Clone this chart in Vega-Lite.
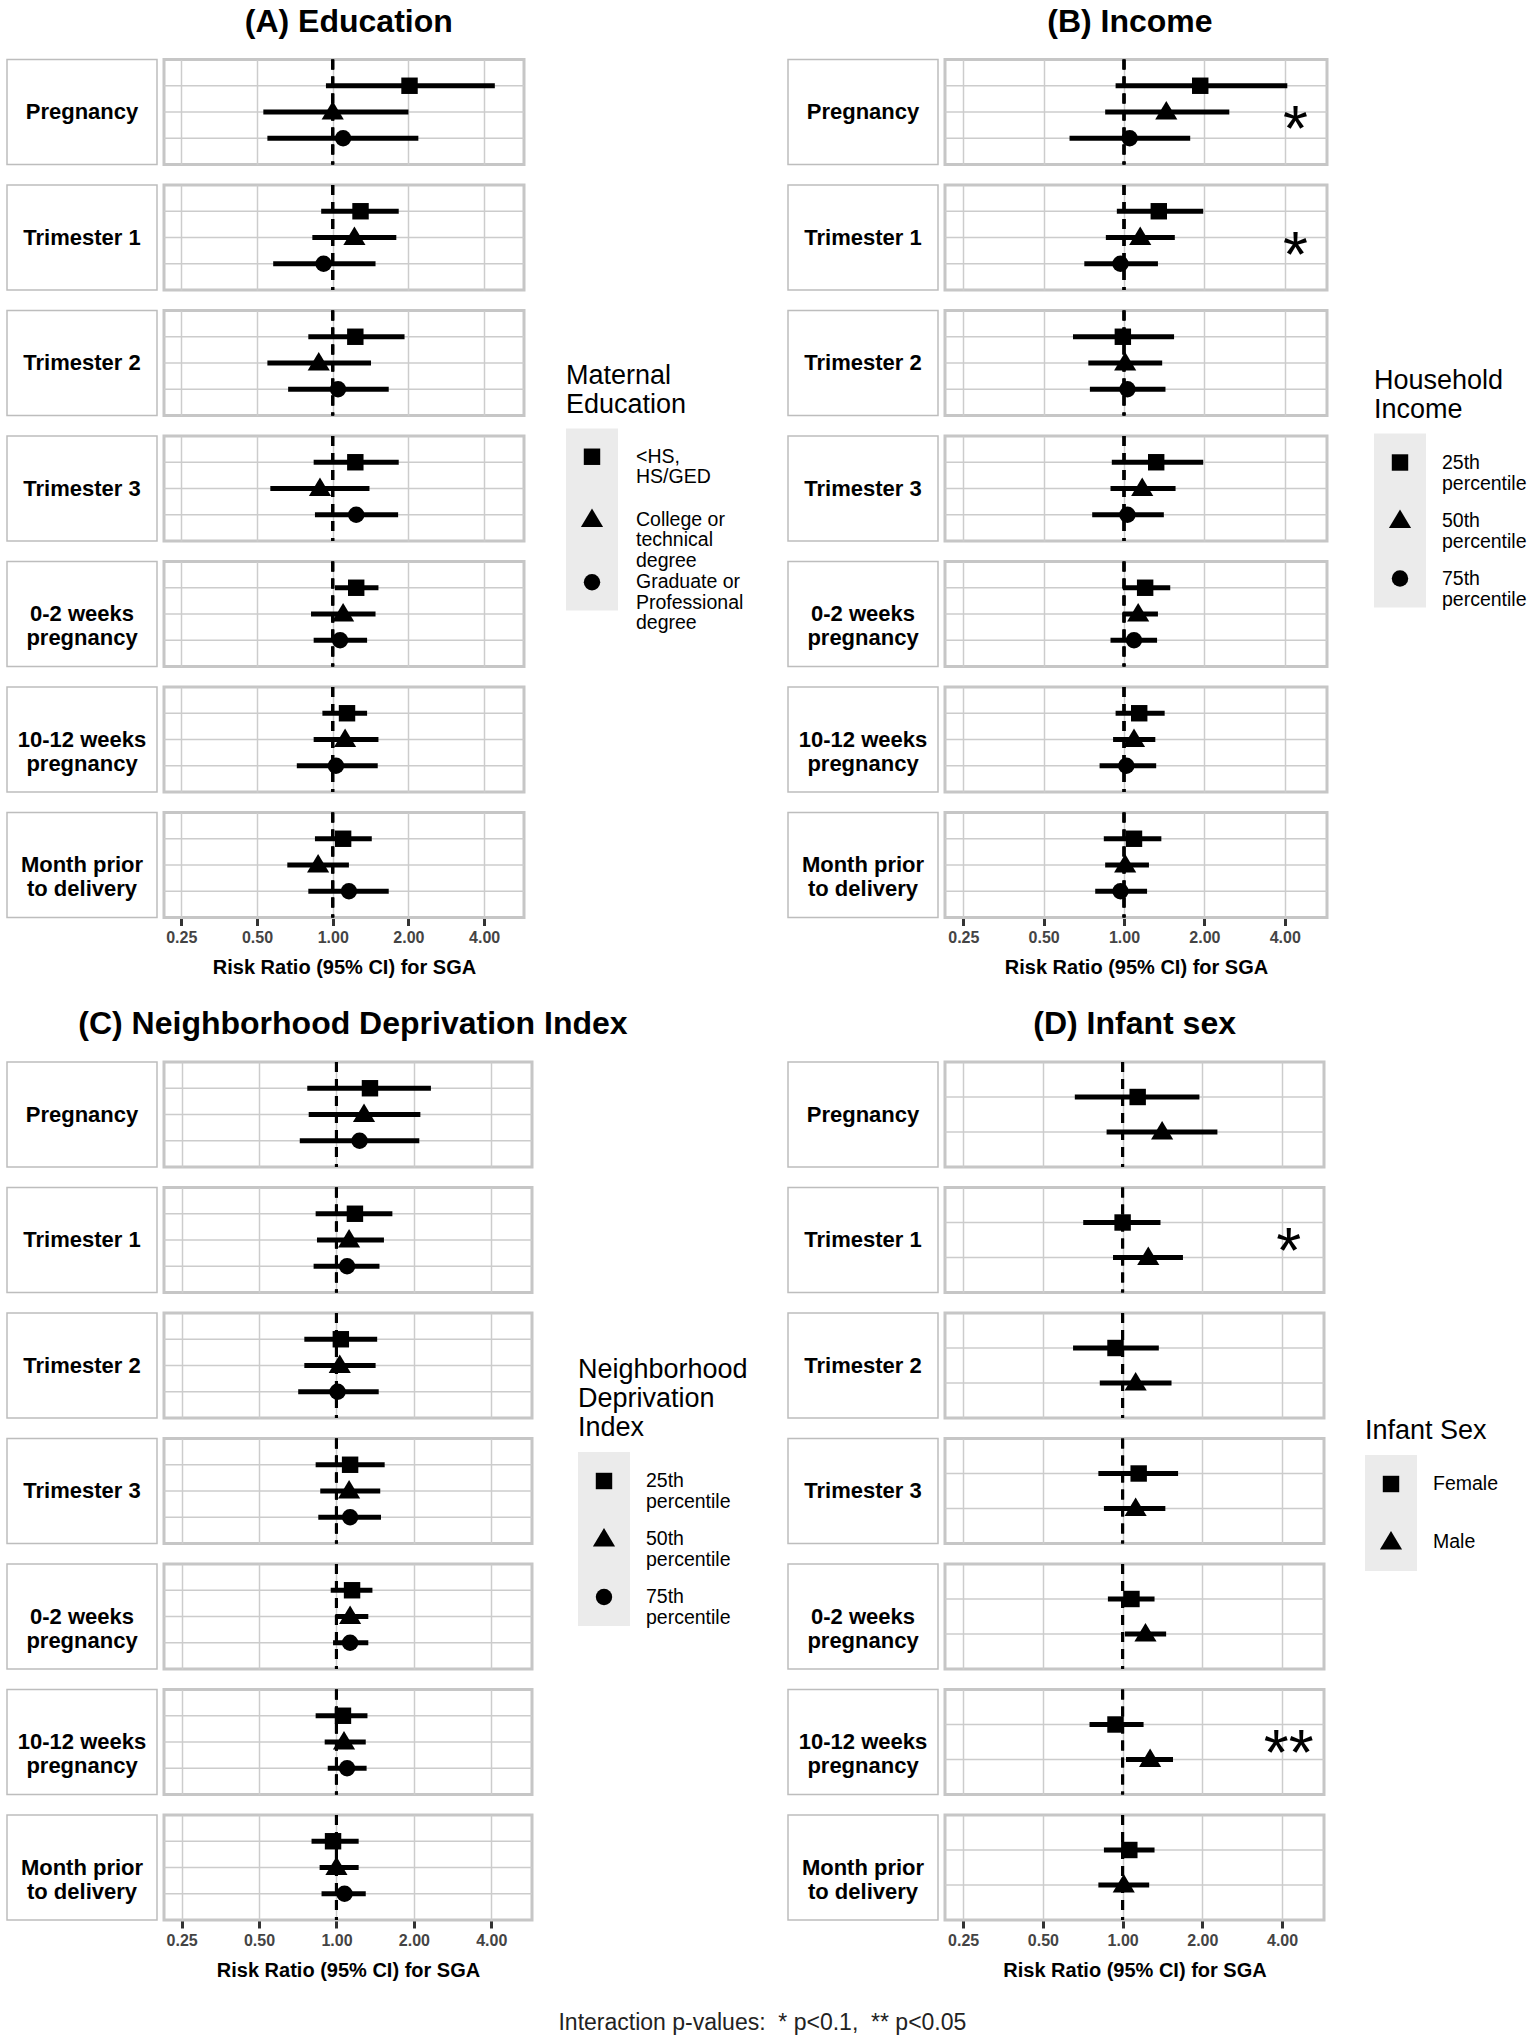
{
 "$schema": "https://vega.github.io/schema/vega-lite/v6.json",
 "padding": {"left": 6, "top": 5.5, "right": 0, "bottom": 2},
 "background": "white",
 "config": {
  "font": "Liberation Sans",
  "view": {"stroke": null},
  "axisX": {"labelFontSize": 16, "labelFontWeight": "bold", "labelColor": "#444444", "labelFlush": false, "tickColor": "#333333", "tickWidth": 3, "tickSize": 8, "domain": false, "grid": true, "gridColor": "#cccccc", "gridWidth": 1.5, "titleFontSize": 20, "titleFontWeight": "bold", "titleColor": "black", "labelPadding": 4, "titlePadding": 12},
  "title": {"color": "black"}
 },
 "title": {"text": "Interaction p-values:\u00a0 * p<0.1,\u00a0 ** p<0.05", "orient": "bottom", "anchor": "middle", "dx": -4, "fontSize": 23, "fontWeight": "normal", "color": "#222222", "offset": 32},
 "datasets": {
  "edu": [
   {"window":"Pregnancy","group":"<HS,\nHS/GED","rr":2.02,"lo":0.94,"hi":4.41},
   {"window":"Pregnancy","group":"College or\ntechnical\ndegree","rr":1.00,"lo":0.53,"hi":2.00},
   {"window":"Pregnancy","group":"Graduate or\nProfessional\ndegree","rr":1.10,"lo":0.55,"hi":2.19},
   {"window":"Trimester 1","group":"<HS,\nHS/GED","rr":1.29,"lo":0.90,"hi":1.83},
   {"window":"Trimester 1","group":"College or\ntechnical\ndegree","rr":1.22,"lo":0.83,"hi":1.79},
   {"window":"Trimester 1","group":"Graduate or\nProfessional\ndegree","rr":0.92,"lo":0.58,"hi":1.48},
   {"window":"Trimester 2","group":"<HS,\nHS/GED","rr":1.23,"lo":0.80,"hi":1.93},
   {"window":"Trimester 2","group":"College or\ntechnical\ndegree","rr":0.88,"lo":0.55,"hi":1.42},
   {"window":"Trimester 2","group":"Graduate or\nProfessional\ndegree","rr":1.05,"lo":0.665,"hi":1.67},
   {"window":"Trimester 3","group":"<HS,\nHS/GED","rr":1.23,"lo":0.84,"hi":1.83},
   {"window":"Trimester 3","group":"College or\ntechnical\ndegree","rr":0.89,"lo":0.565,"hi":1.40},
   {"window":"Trimester 3","group":"Graduate or\nProfessional\ndegree","rr":1.24,"lo":0.85,"hi":1.82},
   {"window":"0-2 weeks\npregnancy","group":"<HS,\nHS/GED","rr":1.24,"lo":1.02,"hi":1.52},
   {"window":"0-2 weeks\npregnancy","group":"College or\ntechnical\ndegree","rr":1.10,"lo":0.82,"hi":1.48},
   {"window":"0-2 weeks\npregnancy","group":"Graduate or\nProfessional\ndegree","rr":1.07,"lo":0.84,"hi":1.37},
   {"window":"10-12 weeks\npregnancy","group":"<HS,\nHS/GED","rr":1.14,"lo":0.91,"hi":1.37},
   {"window":"10-12 weeks\npregnancy","group":"College or\ntechnical\ndegree","rr":1.12,"lo":0.84,"hi":1.52},
   {"window":"10-12 weeks\npregnancy","group":"Graduate or\nProfessional\ndegree","rr":1.03,"lo":0.72,"hi":1.51},
   {"window":"Month prior\nto delivery","group":"<HS,\nHS/GED","rr":1.10,"lo":0.85,"hi":1.43},
   {"window":"Month prior\nto delivery","group":"College or\ntechnical\ndegree","rr":0.875,"lo":0.66,"hi":1.16},
   {"window":"Month prior\nto delivery","group":"Graduate or\nProfessional\ndegree","rr":1.16,"lo":0.80,"hi":1.67}
  ],
  "inc": [
   {"window":"Pregnancy","group":"25th\npercentile","rr":1.93,"lo":0.93,"hi":4.09},
   {"window":"Pregnancy","group":"50th\npercentile","rr":1.44,"lo":0.85,"hi":2.48,"star":"*"},
   {"window":"Pregnancy","group":"75th\npercentile","rr":1.05,"lo":0.625,"hi":1.77},
   {"window":"Trimester 1","group":"25th\npercentile","rr":1.35,"lo":0.94,"hi":1.98},
   {"window":"Trimester 1","group":"50th\npercentile","rr":1.15,"lo":0.855,"hi":1.55,"star":"*"},
   {"window":"Trimester 1","group":"75th\npercentile","rr":0.97,"lo":0.71,"hi":1.34},
   {"window":"Trimester 2","group":"25th\npercentile","rr":0.99,"lo":0.644,"hi":1.54},
   {"window":"Trimester 2","group":"50th\npercentile","rr":1.01,"lo":0.735,"hi":1.39},
   {"window":"Trimester 2","group":"75th\npercentile","rr":1.03,"lo":0.745,"hi":1.43},
   {"window":"Trimester 3","group":"25th\npercentile","rr":1.32,"lo":0.90,"hi":1.98},
   {"window":"Trimester 3","group":"50th\npercentile","rr":1.17,"lo":0.89,"hi":1.56},
   {"window":"Trimester 3","group":"75th\npercentile","rr":1.03,"lo":0.76,"hi":1.41},
   {"window":"0-2 weeks\npregnancy","group":"25th\npercentile","rr":1.20,"lo":0.99,"hi":1.49},
   {"window":"0-2 weeks\npregnancy","group":"50th\npercentile","rr":1.13,"lo":0.99,"hi":1.34},
   {"window":"0-2 weeks\npregnancy","group":"75th\npercentile","rr":1.09,"lo":0.89,"hi":1.33},
   {"window":"10-12 weeks\npregnancy","group":"25th\npercentile","rr":1.14,"lo":0.93,"hi":1.42},
   {"window":"10-12 weeks\npregnancy","group":"50th\npercentile","rr":1.09,"lo":0.91,"hi":1.31},
   {"window":"10-12 weeks\npregnancy","group":"75th\npercentile","rr":1.02,"lo":0.81,"hi":1.32},
   {"window":"Month prior\nto delivery","group":"25th\npercentile","rr":1.09,"lo":0.84,"hi":1.38},
   {"window":"Month prior\nto delivery","group":"50th\npercentile","rr":1.01,"lo":0.85,"hi":1.24},
   {"window":"Month prior\nto delivery","group":"75th\npercentile","rr":0.97,"lo":0.78,"hi":1.22}
  ],
  "ndi": [
   {"window":"Pregnancy","group":"25th\npercentile","rr":1.35,"lo":0.77,"hi":2.33},
   {"window":"Pregnancy","group":"50th\npercentile","rr":1.28,"lo":0.78,"hi":2.12},
   {"window":"Pregnancy","group":"75th\npercentile","rr":1.23,"lo":0.72,"hi":2.10},
   {"window":"Trimester 1","group":"25th\npercentile","rr":1.18,"lo":0.83,"hi":1.65},
   {"window":"Trimester 1","group":"50th\npercentile","rr":1.12,"lo":0.84,"hi":1.53},
   {"window":"Trimester 1","group":"75th\npercentile","rr":1.10,"lo":0.815,"hi":1.47},
   {"window":"Trimester 2","group":"25th\npercentile","rr":1.04,"lo":0.75,"hi":1.44},
   {"window":"Trimester 2","group":"50th\npercentile","rr":1.03,"lo":0.75,"hi":1.42},
   {"window":"Trimester 2","group":"75th\npercentile","rr":1.01,"lo":0.71,"hi":1.46},
   {"window":"Trimester 3","group":"25th\npercentile","rr":1.13,"lo":0.83,"hi":1.54},
   {"window":"Trimester 3","group":"50th\npercentile","rr":1.12,"lo":0.865,"hi":1.48},
   {"window":"Trimester 3","group":"75th\npercentile","rr":1.13,"lo":0.85,"hi":1.49},
   {"window":"0-2 weeks\npregnancy","group":"25th\npercentile","rr":1.15,"lo":0.95,"hi":1.38},
   {"window":"0-2 weeks\npregnancy","group":"50th\npercentile","rr":1.13,"lo":0.99,"hi":1.33},
   {"window":"0-2 weeks\npregnancy","group":"75th\npercentile","rr":1.13,"lo":0.97,"hi":1.33},
   {"window":"10-12 weeks\npregnancy","group":"25th\npercentile","rr":1.06,"lo":0.83,"hi":1.32},
   {"window":"10-12 weeks\npregnancy","group":"50th\npercentile","rr":1.07,"lo":0.90,"hi":1.30},
   {"window":"10-12 weeks\npregnancy","group":"75th\npercentile","rr":1.10,"lo":0.925,"hi":1.31},
   {"window":"Month prior\nto delivery","group":"25th\npercentile","rr":0.97,"lo":0.80,"hi":1.22},
   {"window":"Month prior\nto delivery","group":"50th\npercentile","rr":1.00,"lo":0.86,"hi":1.22},
   {"window":"Month prior\nto delivery","group":"75th\npercentile","rr":1.075,"lo":0.875,"hi":1.30}
  ],
  "sex": [
   {"window":"Pregnancy","group":"Female","rr":1.14,"lo":0.66,"hi":1.95},
   {"window":"Pregnancy","group":"Male","rr":1.41,"lo":0.87,"hi":2.28},
   {"window":"Trimester 1","group":"Female","rr":1.00,"lo":0.71,"hi":1.39},
   {"window":"Trimester 1","group":"Male","rr":1.25,"lo":0.92,"hi":1.69,"star":"*"},
   {"window":"Trimester 2","group":"Female","rr":0.94,"lo":0.65,"hi":1.37},
   {"window":"Trimester 2","group":"Male","rr":1.12,"lo":0.82,"hi":1.53},
   {"window":"Trimester 3","group":"Female","rr":1.15,"lo":0.81,"hi":1.62},
   {"window":"Trimester 3","group":"Male","rr":1.12,"lo":0.85,"hi":1.45},
   {"window":"0-2 weeks\npregnancy","group":"Female","rr":1.08,"lo":0.88,"hi":1.32},
   {"window":"0-2 weeks\npregnancy","group":"Male","rr":1.22,"lo":1.02,"hi":1.46},
   {"window":"10-12 weeks\npregnancy","group":"Female","rr":0.94,"lo":0.75,"hi":1.20},
   {"window":"10-12 weeks\npregnancy","group":"Male","rr":1.27,"lo":1.03,"hi":1.55,"star":"**"},
   {"window":"Month prior\nto delivery","group":"Female","rr":1.06,"lo":0.85,"hi":1.32},
   {"window":"Month prior\nto delivery","group":"Male","rr":1.01,"lo":0.81,"hi":1.26}
  ]
 },
 "vconcat": [
  {
   "hconcat": [
    {
     "title": {"text": "(A) Education", "fontSize": 32, "fontWeight": "bold", "anchor": "middle", "dx": -26, "offset": 18},
     "hconcat": [
      {
       "hconcat": [
        {
         "data": {"name": "edu"},
         "transform": [{"aggregate": [], "groupby": ["window"]}],
         "facet": {"row": {"field": "window", "type": "nominal", "header": null, "sort": ["Pregnancy","Trimester 1","Trimester 2","Trimester 3","0-2 weeks\npregnancy","10-12 weeks\npregnancy","Month prior\nto delivery"]}},
         "spacing": 20.5, "bounds": "flush",
         "spec": {
          "width": 150, "height": 105,
          "view": {"stroke": "#bdbdbd", "strokeWidth": 1.5},
          "layer": [{"mark": {"type": "text", "fontSize": 22, "fontWeight": "bold", "lineBreak": "\n", "lineHeight": 24, "baseline": "middle", "color": "black"}, "encoding": {"text": {"field": "window"}}}]
         }
        },
        {
         "data": {"name": "edu"},
         "facet": {"row": {"field": "window", "type": "nominal", "header": null, "sort": ["Pregnancy","Trimester 1","Trimester 2","Trimester 3","0-2 weeks\npregnancy","10-12 weeks\npregnancy","Month prior\nto delivery"]}},
         "spacing": 20.5, "bounds": "flush",
         "spec": {
          "width": 360, "height": 105,
          "view": {"stroke": "#c6c6c6", "strokeWidth": 3},
          "layer": [
           {"mark": {"type": "rule", "color": "#cccccc", "strokeWidth": 1.5},
            "encoding": {"y": {"field": "group", "type": "nominal", "sort": ["<HS,\nHS/GED","College or\ntechnical\ndegree","Graduate or\nProfessional\ndegree"], "scale": {"type": "point", "padding": 1.2}, "axis": null}}},
           {"mark": {"type": "rule", "color": "black", "strokeWidth": 3, "strokeDash": [10, 7]},
            "encoding": {"x": {"datum": 1, "type": "quantitative", "scale": {"type": "log", "domain": [0.2135, 5.76], "nice": false}, "axis": {"values": [0.25, 0.5, 1, 2, 4], "format": ".2f", "title": "Risk Ratio (95% CI) for SGA"}}}},
           {"mark": {"type": "rule", "color": "black", "strokeWidth": 5},
            "encoding": {"x": {"field": "lo", "type": "quantitative", "scale": {"type": "log", "domain": [0.2135, 5.76], "nice": false}, "axis": {"values": [0.25, 0.5, 1, 2, 4], "format": ".2f", "title": "Risk Ratio (95% CI) for SGA"}}, "x2": {"field": "hi"},
             "y": {"field": "group", "type": "nominal", "sort": ["<HS,\nHS/GED","College or\ntechnical\ndegree","Graduate or\nProfessional\ndegree"], "scale": {"type": "point", "padding": 1.2}, "axis": null}}},
           {"mark": {"type": "point", "filled": true, "opacity": 1, "color": "black", "size": 270},
            "encoding": {"x": {"field": "rr", "type": "quantitative", "scale": {"type": "log", "domain": [0.2135, 5.76], "nice": false}, "axis": {"values": [0.25, 0.5, 1, 2, 4], "format": ".2f", "title": "Risk Ratio (95% CI) for SGA"}},
             "y": {"field": "group", "type": "nominal", "sort": ["<HS,\nHS/GED","College or\ntechnical\ndegree","Graduate or\nProfessional\ndegree"], "scale": {"type": "point", "padding": 1.2}, "axis": null},
             "shape": {"field": "group", "type": "nominal", "legend": null, "scale": {"domain": ["<HS,\nHS/GED","College or\ntechnical\ndegree","Graduate or\nProfessional\ndegree","25th\npercentile","50th\npercentile","75th\npercentile","Female","Male"], "range": ["M-1,-1H1V1H-1Z","M0,-1.35L1.35,0.9L-1.35,0.9Z","circle","M-1,-1H1V1H-1Z","M0,-1.35L1.35,0.9L-1.35,0.9Z","circle","M-1,-1H1V1H-1Z","M0,-1.35L1.35,0.9L-1.35,0.9Z"]}}}}
          ]
         }
        }
       ],
       "spacing": 3
      },
      {
       "vconcat": [
        {"data": {"values": []}, "width": 52, "height": 302, "mark": {"type": "point", "opacity": 0}},
        {
         "data": {"name": "edu"},
         "transform": [{"filter": "datum.window == 'Pregnancy'"}],
         "width": 52, "height": 182,
         "title": {"text": ["Maternal", "Education"], "anchor": "start", "frame": "group", "fontSize": 27, "fontWeight": "normal", "offset": 10, "lineHeight": 29},
         "view": {"fill": "#ebebeb", "stroke": null},
         "layer": [
          {"mark": {"type": "point", "filled": true, "opacity": 1, "color": "black", "size": 270},
           "encoding": {"y": {"field": "group", "type": "nominal", "sort": ["<HS,\nHS/GED","College or\ntechnical\ndegree","Graduate or\nProfessional\ndegree"], "scale": {"type": "point", "padding": 0.45}, "axis": null},
            "shape": {"field": "group", "type": "nominal", "legend": null, "scale": {"domain": ["<HS,\nHS/GED","College or\ntechnical\ndegree","Graduate or\nProfessional\ndegree","25th\npercentile","50th\npercentile","75th\npercentile","Female","Male"], "range": ["M-1,-1H1V1H-1Z","M0,-1.35L1.35,0.9L-1.35,0.9Z","circle","M-1,-1H1V1H-1Z","M0,-1.35L1.35,0.9L-1.35,0.9Z","circle","M-1,-1H1V1H-1Z","M0,-1.35L1.35,0.9L-1.35,0.9Z"]}}}},
          {"mark": {"type": "text", "align": "left", "baseline": "middle", "dx": 44, "fontSize": 19.5, "lineBreak": "\n", "lineHeight": 20.5, "color": "black"},
           "encoding": {"y": {"field": "group", "type": "nominal", "sort": ["<HS,\nHS/GED","College or\ntechnical\ndegree","Graduate or\nProfessional\ndegree"], "scale": {"type": "point", "padding": 0.45}, "axis": null}, "text": {"field": "group"}}}
         ]
        }
       ],
       "spacing": 0
      }
     ],
     "spacing": 39
    },
    {
     "title": {"text": "(B) Income", "fontSize": 32, "fontWeight": "bold", "anchor": "middle", "dx": -27, "offset": 18},
     "hconcat": [
      {
       "hconcat": [
        {
         "data": {"name": "inc"},
         "transform": [{"aggregate": [], "groupby": ["window"]}],
         "facet": {"row": {"field": "window", "type": "nominal", "header": null, "sort": ["Pregnancy","Trimester 1","Trimester 2","Trimester 3","0-2 weeks\npregnancy","10-12 weeks\npregnancy","Month prior\nto delivery"]}},
         "spacing": 20.5, "bounds": "flush",
         "spec": {
          "width": 150, "height": 105,
          "view": {"stroke": "#bdbdbd", "strokeWidth": 1.5},
          "layer": [{"mark": {"type": "text", "fontSize": 22, "fontWeight": "bold", "lineBreak": "\n", "lineHeight": 24, "baseline": "middle", "color": "black"}, "encoding": {"text": {"field": "window"}}}]
         }
        },
        {
         "data": {"name": "inc"},
         "facet": {"row": {"field": "window", "type": "nominal", "header": null, "sort": ["Pregnancy","Trimester 1","Trimester 2","Trimester 3","0-2 weeks\npregnancy","10-12 weeks\npregnancy","Month prior\nto delivery"]}},
         "spacing": 20.5, "bounds": "flush",
         "spec": {
          "width": 382, "height": 105,
          "view": {"stroke": "#c6c6c6", "strokeWidth": 3},
          "layer": [
           {"mark": {"type": "rule", "color": "#cccccc", "strokeWidth": 1.5},
            "encoding": {"y": {"field": "group", "type": "nominal", "sort": ["25th\npercentile","50th\npercentile","75th\npercentile"], "scale": {"type": "point", "padding": 1.2}, "axis": null}}},
           {"mark": {"type": "rule", "color": "black", "strokeWidth": 3, "strokeDash": [10, 7]},
            "encoding": {"x": {"datum": 1, "type": "quantitative", "scale": {"type": "log", "domain": [0.2135, 5.76], "nice": false}, "axis": {"values": [0.25, 0.5, 1, 2, 4], "format": ".2f", "title": "Risk Ratio (95% CI) for SGA"}}}},
           {"mark": {"type": "rule", "color": "black", "strokeWidth": 5},
            "encoding": {"x": {"field": "lo", "type": "quantitative", "scale": {"type": "log", "domain": [0.2135, 5.76], "nice": false}, "axis": {"values": [0.25, 0.5, 1, 2, 4], "format": ".2f", "title": "Risk Ratio (95% CI) for SGA"}}, "x2": {"field": "hi"},
             "y": {"field": "group", "type": "nominal", "sort": ["25th\npercentile","50th\npercentile","75th\npercentile"], "scale": {"type": "point", "padding": 1.2}, "axis": null}}},
           {"mark": {"type": "point", "filled": true, "opacity": 1, "color": "black", "size": 270},
            "encoding": {"x": {"field": "rr", "type": "quantitative", "scale": {"type": "log", "domain": [0.2135, 5.76], "nice": false}, "axis": {"values": [0.25, 0.5, 1, 2, 4], "format": ".2f", "title": "Risk Ratio (95% CI) for SGA"}},
             "y": {"field": "group", "type": "nominal", "sort": ["25th\npercentile","50th\npercentile","75th\npercentile"], "scale": {"type": "point", "padding": 1.2}, "axis": null},
             "shape": {"field": "group", "type": "nominal", "legend": null, "scale": {"domain": ["<HS,\nHS/GED","College or\ntechnical\ndegree","Graduate or\nProfessional\ndegree","25th\npercentile","50th\npercentile","75th\npercentile","Female","Male"], "range": ["M-1,-1H1V1H-1Z","M0,-1.35L1.35,0.9L-1.35,0.9Z","circle","M-1,-1H1V1H-1Z","M0,-1.35L1.35,0.9L-1.35,0.9Z","circle","M-1,-1H1V1H-1Z","M0,-1.35L1.35,0.9L-1.35,0.9Z"]}}}},
           {"transform": [{"filter": "datum.star"}],
            "mark": {"type": "text", "fontSize": 64, "align": "center", "baseline": "alphabetic", "dy": 39, "color": "black"},
            "encoding": {"x": {"datum": 4.39, "type": "quantitative", "scale": {"type": "log", "domain": [0.2135, 5.76], "nice": false}},
             "y": {"field": "group", "type": "nominal", "sort": ["25th\npercentile","50th\npercentile","75th\npercentile"], "scale": {"type": "point", "padding": 1.2}, "axis": null},
             "text": {"field": "star"}}}
          ]
         }
        }
       ],
       "spacing": 3
      },
      {
       "vconcat": [
        {"data": {"values": []}, "width": 52, "height": 307, "mark": {"type": "point", "opacity": 0}},
        {
         "data": {"name": "inc"},
         "transform": [{"filter": "datum.window == 'Pregnancy'"}],
         "width": 52, "height": 174,
         "title": {"text": ["Household", "Income"], "anchor": "start", "frame": "group", "fontSize": 27, "fontWeight": "normal", "offset": 10, "lineHeight": 29},
         "view": {"fill": "#ebebeb", "stroke": null},
         "layer": [
          {"mark": {"type": "point", "filled": true, "opacity": 1, "color": "black", "size": 270},
           "encoding": {"y": {"field": "group", "type": "nominal", "sort": ["25th\npercentile","50th\npercentile","75th\npercentile"], "scale": {"type": "point", "padding": 0.5}, "axis": null},
            "shape": {"field": "group", "type": "nominal", "legend": null, "scale": {"domain": ["<HS,\nHS/GED","College or\ntechnical\ndegree","Graduate or\nProfessional\ndegree","25th\npercentile","50th\npercentile","75th\npercentile","Female","Male"], "range": ["M-1,-1H1V1H-1Z","M0,-1.35L1.35,0.9L-1.35,0.9Z","circle","M-1,-1H1V1H-1Z","M0,-1.35L1.35,0.9L-1.35,0.9Z","circle","M-1,-1H1V1H-1Z","M0,-1.35L1.35,0.9L-1.35,0.9Z"]}}}},
          {"mark": {"type": "text", "align": "left", "baseline": "middle", "dx": 42, "fontSize": 19.5, "lineBreak": "\n", "lineHeight": 21, "color": "black"},
           "encoding": {"y": {"field": "group", "type": "nominal", "sort": ["25th\npercentile","50th\npercentile","75th\npercentile"], "scale": {"type": "point", "padding": 0.5}, "axis": null}, "text": {"field": "group"}}}
         ]
        }
       ],
       "spacing": 0
      }
     ],
     "spacing": 44
    }
   ],
   "spacing": 43
  },
  {
   "hconcat": [
    {
     "title": {"text": "(C) Neighborhood Deprivation Index", "fontSize": 32, "fontWeight": "bold", "anchor": "middle", "dx": -24, "offset": 18},
     "hconcat": [
      {
       "hconcat": [
        {
         "data": {"name": "ndi"},
         "transform": [{"aggregate": [], "groupby": ["window"]}],
         "facet": {"row": {"field": "window", "type": "nominal", "header": null, "sort": ["Pregnancy","Trimester 1","Trimester 2","Trimester 3","0-2 weeks\npregnancy","10-12 weeks\npregnancy","Month prior\nto delivery"]}},
         "spacing": 20.5, "bounds": "flush",
         "spec": {
          "width": 150, "height": 105,
          "view": {"stroke": "#bdbdbd", "strokeWidth": 1.5},
          "layer": [{"mark": {"type": "text", "fontSize": 22, "fontWeight": "bold", "lineBreak": "\n", "lineHeight": 24, "baseline": "middle", "color": "black"}, "encoding": {"text": {"field": "window"}}}]
         }
        },
        {
         "data": {"name": "ndi"},
         "facet": {"row": {"field": "window", "type": "nominal", "header": null, "sort": ["Pregnancy","Trimester 1","Trimester 2","Trimester 3","0-2 weeks\npregnancy","10-12 weeks\npregnancy","Month prior\nto delivery"]}},
         "spacing": 20.5, "bounds": "flush",
         "spec": {
          "width": 368, "height": 105,
          "view": {"stroke": "#c6c6c6", "strokeWidth": 3},
          "layer": [
           {"mark": {"type": "rule", "color": "#cccccc", "strokeWidth": 1.5},
            "encoding": {"y": {"field": "group", "type": "nominal", "sort": ["25th\npercentile","50th\npercentile","75th\npercentile"], "scale": {"type": "point", "padding": 1.2}, "axis": null}}},
           {"mark": {"type": "rule", "color": "black", "strokeWidth": 3, "strokeDash": [10, 7]},
            "encoding": {"x": {"datum": 1, "type": "quantitative", "scale": {"type": "log", "domain": [0.2135, 5.76], "nice": false}, "axis": {"values": [0.25, 0.5, 1, 2, 4], "format": ".2f", "title": "Risk Ratio (95% CI) for SGA"}}}},
           {"mark": {"type": "rule", "color": "black", "strokeWidth": 5},
            "encoding": {"x": {"field": "lo", "type": "quantitative", "scale": {"type": "log", "domain": [0.2135, 5.76], "nice": false}, "axis": {"values": [0.25, 0.5, 1, 2, 4], "format": ".2f", "title": "Risk Ratio (95% CI) for SGA"}}, "x2": {"field": "hi"},
             "y": {"field": "group", "type": "nominal", "sort": ["25th\npercentile","50th\npercentile","75th\npercentile"], "scale": {"type": "point", "padding": 1.2}, "axis": null}}},
           {"mark": {"type": "point", "filled": true, "opacity": 1, "color": "black", "size": 270},
            "encoding": {"x": {"field": "rr", "type": "quantitative", "scale": {"type": "log", "domain": [0.2135, 5.76], "nice": false}, "axis": {"values": [0.25, 0.5, 1, 2, 4], "format": ".2f", "title": "Risk Ratio (95% CI) for SGA"}},
             "y": {"field": "group", "type": "nominal", "sort": ["25th\npercentile","50th\npercentile","75th\npercentile"], "scale": {"type": "point", "padding": 1.2}, "axis": null},
             "shape": {"field": "group", "type": "nominal", "legend": null, "scale": {"domain": ["<HS,\nHS/GED","College or\ntechnical\ndegree","Graduate or\nProfessional\ndegree","25th\npercentile","50th\npercentile","75th\npercentile","Female","Male"], "range": ["M-1,-1H1V1H-1Z","M0,-1.35L1.35,0.9L-1.35,0.9Z","circle","M-1,-1H1V1H-1Z","M0,-1.35L1.35,0.9L-1.35,0.9Z","circle","M-1,-1H1V1H-1Z","M0,-1.35L1.35,0.9L-1.35,0.9Z"]}}}}
          ]
         }
        }
       ],
       "spacing": 3
      },
      {
       "vconcat": [
        {"data": {"values": []}, "width": 52, "height": 294, "mark": {"type": "point", "opacity": 0}},
        {
         "data": {"name": "ndi"},
         "transform": [{"filter": "datum.window == 'Pregnancy'"}],
         "width": 52, "height": 174,
         "title": {"text": ["Neighborhood", "Deprivation", "Index"], "anchor": "start", "frame": "group", "fontSize": 27, "fontWeight": "normal", "offset": 10, "lineHeight": 29},
         "view": {"fill": "#ebebeb", "stroke": null},
         "layer": [
          {"mark": {"type": "point", "filled": true, "opacity": 1, "color": "black", "size": 270},
           "encoding": {"y": {"field": "group", "type": "nominal", "sort": ["25th\npercentile","50th\npercentile","75th\npercentile"], "scale": {"type": "point", "padding": 0.5}, "axis": null},
            "shape": {"field": "group", "type": "nominal", "legend": null, "scale": {"domain": ["<HS,\nHS/GED","College or\ntechnical\ndegree","Graduate or\nProfessional\ndegree","25th\npercentile","50th\npercentile","75th\npercentile","Female","Male"], "range": ["M-1,-1H1V1H-1Z","M0,-1.35L1.35,0.9L-1.35,0.9Z","circle","M-1,-1H1V1H-1Z","M0,-1.35L1.35,0.9L-1.35,0.9Z","circle","M-1,-1H1V1H-1Z","M0,-1.35L1.35,0.9L-1.35,0.9Z"]}}}},
          {"mark": {"type": "text", "align": "left", "baseline": "middle", "dx": 42, "fontSize": 19.5, "lineBreak": "\n", "lineHeight": 21, "color": "black"},
           "encoding": {"y": {"field": "group", "type": "nominal", "sort": ["25th\npercentile","50th\npercentile","75th\npercentile"], "scale": {"type": "point", "padding": 0.5}, "axis": null}, "text": {"field": "group"}}}
         ]
        }
       ],
       "spacing": 0
      }
     ],
     "spacing": 43
    },
    {
     "title": {"text": "(D) Infant sex", "fontSize": 32, "fontWeight": "bold", "anchor": "middle", "dx": -8, "offset": 18},
     "hconcat": [
      {
       "hconcat": [
        {
         "data": {"name": "sex"},
         "transform": [{"aggregate": [], "groupby": ["window"]}],
         "facet": {"row": {"field": "window", "type": "nominal", "header": null, "sort": ["Pregnancy","Trimester 1","Trimester 2","Trimester 3","0-2 weeks\npregnancy","10-12 weeks\npregnancy","Month prior\nto delivery"]}},
         "spacing": 20.5, "bounds": "flush",
         "spec": {
          "width": 150, "height": 105,
          "view": {"stroke": "#bdbdbd", "strokeWidth": 1.5},
          "layer": [{"mark": {"type": "text", "fontSize": 22, "fontWeight": "bold", "lineBreak": "\n", "lineHeight": 24, "baseline": "middle", "color": "black"}, "encoding": {"text": {"field": "window"}}}]
         }
        },
        {
         "data": {"name": "sex"},
         "facet": {"row": {"field": "window", "type": "nominal", "header": null, "sort": ["Pregnancy","Trimester 1","Trimester 2","Trimester 3","0-2 weeks\npregnancy","10-12 weeks\npregnancy","Month prior\nto delivery"]}},
         "spacing": 20.5, "bounds": "flush",
         "spec": {
          "width": 379, "height": 105,
          "view": {"stroke": "#c6c6c6", "strokeWidth": 3},
          "layer": [
           {"mark": {"type": "rule", "color": "#cccccc", "strokeWidth": 1.5},
            "encoding": {"y": {"field": "group", "type": "nominal", "sort": ["Female","Male"], "scale": {"type": "point", "padding": 1.08}, "axis": null}}},
           {"mark": {"type": "rule", "color": "black", "strokeWidth": 3, "strokeDash": [10, 7]},
            "encoding": {"x": {"datum": 1, "type": "quantitative", "scale": {"type": "log", "domain": [0.2135, 5.76], "nice": false}, "axis": {"values": [0.25, 0.5, 1, 2, 4], "format": ".2f", "title": "Risk Ratio (95% CI) for SGA"}}}},
           {"mark": {"type": "rule", "color": "black", "strokeWidth": 5},
            "encoding": {"x": {"field": "lo", "type": "quantitative", "scale": {"type": "log", "domain": [0.2135, 5.76], "nice": false}, "axis": {"values": [0.25, 0.5, 1, 2, 4], "format": ".2f", "title": "Risk Ratio (95% CI) for SGA"}}, "x2": {"field": "hi"},
             "y": {"field": "group", "type": "nominal", "sort": ["Female","Male"], "scale": {"type": "point", "padding": 1.08}, "axis": null}}},
           {"mark": {"type": "point", "filled": true, "opacity": 1, "color": "black", "size": 270},
            "encoding": {"x": {"field": "rr", "type": "quantitative", "scale": {"type": "log", "domain": [0.2135, 5.76], "nice": false}, "axis": {"values": [0.25, 0.5, 1, 2, 4], "format": ".2f", "title": "Risk Ratio (95% CI) for SGA"}},
             "y": {"field": "group", "type": "nominal", "sort": ["Female","Male"], "scale": {"type": "point", "padding": 1.08}, "axis": null},
             "shape": {"field": "group", "type": "nominal", "legend": null, "scale": {"domain": ["<HS,\nHS/GED","College or\ntechnical\ndegree","Graduate or\nProfessional\ndegree","25th\npercentile","50th\npercentile","75th\npercentile","Female","Male"], "range": ["M-1,-1H1V1H-1Z","M0,-1.35L1.35,0.9L-1.35,0.9Z","circle","M-1,-1H1V1H-1Z","M0,-1.35L1.35,0.9L-1.35,0.9Z","circle","M-1,-1H1V1H-1Z","M0,-1.35L1.35,0.9L-1.35,0.9Z"]}}}},
           {"transform": [{"filter": "datum.star"}],
            "mark": {"type": "text", "fontSize": 64, "align": "center", "baseline": "alphabetic", "dy": 15, "color": "black"},
            "encoding": {"x": {"datum": 4.24, "type": "quantitative", "scale": {"type": "log", "domain": [0.2135, 5.76], "nice": false}},
             "y": {"field": "group", "type": "nominal", "sort": ["Female","Male"], "scale": {"type": "point", "padding": 1.08}, "axis": null},
             "text": {"field": "star"}}}
          ]
         }
        }
       ],
       "spacing": 3
      },
      {
       "vconcat": [
        {"data": {"values": []}, "width": 52, "height": 355, "mark": {"type": "point", "opacity": 0}},
        {
         "data": {"name": "sex"},
         "transform": [{"filter": "datum.window == 'Pregnancy'"}],
         "width": 52, "height": 116,
         "title": {"text": "Infant Sex", "anchor": "start", "frame": "group", "fontSize": 27, "fontWeight": "normal", "offset": 10},
         "view": {"fill": "#ebebeb", "stroke": null},
         "layer": [
          {"mark": {"type": "point", "filled": true, "opacity": 1, "color": "black", "size": 270},
           "encoding": {"y": {"field": "group", "type": "nominal", "sort": ["Female","Male"], "scale": {"type": "point", "padding": 0.5}, "axis": null},
            "shape": {"field": "group", "type": "nominal", "legend": null, "scale": {"domain": ["<HS,\nHS/GED","College or\ntechnical\ndegree","Graduate or\nProfessional\ndegree","25th\npercentile","50th\npercentile","75th\npercentile","Female","Male"], "range": ["M-1,-1H1V1H-1Z","M0,-1.35L1.35,0.9L-1.35,0.9Z","circle","M-1,-1H1V1H-1Z","M0,-1.35L1.35,0.9L-1.35,0.9Z","circle","M-1,-1H1V1H-1Z","M0,-1.35L1.35,0.9L-1.35,0.9Z"]}}}},
          {"mark": {"type": "text", "align": "left", "baseline": "middle", "dx": 42, "fontSize": 19.5, "lineBreak": "\n", "lineHeight": 21, "color": "black"},
           "encoding": {"y": {"field": "group", "type": "nominal", "sort": ["Female","Male"], "scale": {"type": "point", "padding": 0.5}, "axis": null}, "text": {"field": "group"}}}
         ]
        }
       ],
       "spacing": 0
      }
     ],
     "spacing": 38
    }
   ],
   "spacing": 39
  }
 ],
 "spacing": 30.5
}
